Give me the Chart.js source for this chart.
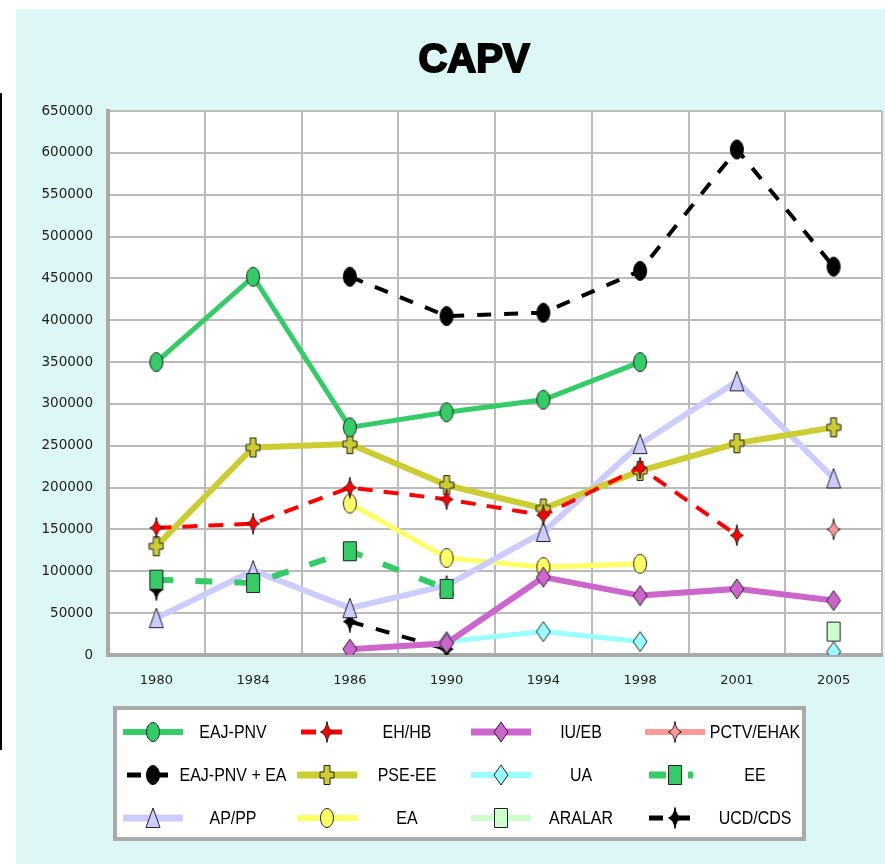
<!DOCTYPE html>
<html>
<head>
<meta charset="utf-8">
<script src="https://cdn.jsdelivr.net/npm/chart.js@4/dist/chart.umd.min.js"></script>
<style>
  html, body { margin: 0; padding: 0; background: #fff; overflow: hidden; }
  #wrap { width: 885px; height: 864px; overflow: hidden; }
</style>
</head>
<body>
<div id="wrap"><canvas id="grafico" width="896" height="864"></canvas></div>
<script>
// datos (votos por eleccion)
const anios = ["1980", "1984", "1986", "1990", "1994", "1998", "2001", "2005"];
const eajPnv  = [350000, 452000, 272000, 290000, 305000, 350000, null, null];
const ehHb    = [152000, 157000, 200000, 186000, 167000, 224000, 143000, null];
const iuEb    = [null, null, 7000, 14000, 93000, 71000, 79000, 65000];
const pctv    = [null, null, null, null, null, null, null, 150000];
const pnvEa   = [null, null, 452000, 405000, 409000, 459000, 604000, 464000];
const pseEe   = [130000, 248000, 252000, 203000, 175000, 220000, 253000, 272000];
const ua      = [null, null, null, 16000, 28000, 16000, null, 4000];
const ee      = [90000, 86000, 124000, 79000, null, null, null, null];
const apPp    = [44000, 101000, 56000, 83000, 147000, 252000, 327000, 211000];
const ea      = [null, null, 181000, 116000, 105000, 109000, null, null];
const aralar  = [null, null, null, null, null, null, null, 28000];
const ucdCds  = [78000, null, 40000, 7000, null, null, null, null];

const ticksY = [0, 650000, 50000]; // min, max, paso

// marcadores dibujados a mano (elipse, rombo, etc.)
function marcador(forma, relleno, borde) {
  const c = document.createElement("canvas");
  c.width = 16; c.height = 22;
  const g = c.getContext("2d");
  g.fillStyle = relleno;
  g.strokeStyle = borde;
  g.lineWidth = 1;
  g.beginPath();
  if (forma === "elipse") {
    g.ellipse(8, 11, 6.5, 9.5, 0, 0, Math.PI * 2);
  } else if (forma === "rombo") {
    g.moveTo(8, 1); g.lineTo(15, 11); g.lineTo(8, 21); g.lineTo(1, 11);
  } else if (forma === "triangulo") {
    g.moveTo(8, 1); g.lineTo(15, 20.5); g.lineTo(1, 20.5);
  } else if (forma === "cruz") {
    g.moveTo(5, 1.5); g.lineTo(11, 1.5); g.lineTo(11, 8); g.lineTo(15, 8);
    g.lineTo(15, 14); g.lineTo(11, 14); g.lineTo(11, 20.5); g.lineTo(5, 20.5);
    g.lineTo(5, 14); g.lineTo(1, 14); g.lineTo(1, 8); g.lineTo(5, 8);
  } else if (forma === "estrella") {
    g.moveTo(8, 0.5); g.quadraticCurveTo(9, 9, 14.5, 11);
    g.quadraticCurveTo(9, 13, 8, 21.5); g.quadraticCurveTo(7, 13, 1.5, 11);
    g.quadraticCurveTo(7, 9, 8, 0.5);
  } else if (forma === "cuadro") {
    g.rect(1.5, 1.5, 13, 19);
  }
  g.closePath();
  g.fill();
  g.stroke();
  return c;
}

function serie(nombre, datos, color, ancho, forma, relleno, guion) {
  return {
    label: nombre,
    data: datos,
    borderColor: color,
    backgroundColor: relleno,
    borderWidth: ancho,
    borderDash: guion || [],
    pointStyle: marcador(forma, relleno, relleno === "#000000" ? "#000000" : "#222222"),
    pointRadius: 8,
    tension: 0,
    spanGaps: false
  };
}

const series = [
  serie("EAJ-PNV", eajPnv, "#33cc66", 5, "elipse", "#33cc66"),
  serie("EH/HB", ehHb, "#ff0000", 4, "estrella", "#ff0000", [15, 11]),
  serie("IU/EB", iuEb, "#cc66cc", 6, "rombo", "#cc66cc"),
  serie("PCTV/EHAK", pctv, "#ff9999", 5, "estrella", "#ff9999"),
  serie("EAJ-PNV + EA", pnvEa, "#000000", 4, "elipse", "#000000", [14, 13]),
  serie("PSE-EE", pseEe, "#cccc33", 6, "cruz", "#cccc33"),
  serie("UA", ua, "#99ffff", 5, "rombo", "#99ffff"),
  serie("EE", ee, "#33cc66", 6, "cuadro", "#33cc66", [17, 22]),
  serie("AP/PP", apPp, "#ccccff", 6, "triangulo", "#ccccff"),
  serie("EA", ea, "#ffff66", 5, "elipse", "#ffff66"),
  serie("ARALAR", aralar, "#ccffcc", 5, "cuadro", "#ccffcc"),
  serie("UCD/CDS", ucdCds, "#000000", 4, "estrella", "#000000", [14, 13])
];

const fondo = {
  id: "fondo",
  beforeDraw(chart) {
    const ctx = chart.ctx;
    const a = chart.chartArea;
    ctx.save();
    ctx.fillStyle = "#ffffff";
    ctx.fillRect(0, 0, chart.width, chart.height);
    ctx.fillStyle = "#ddf7f7";
    ctx.fillRect(16, 9, chart.width - 16, chart.height - 9);
    ctx.fillStyle = "#000000";
    ctx.fillRect(0, 93, 2, 657);
    ctx.fillStyle = "#ffffff";
    ctx.fillRect(a.left, a.top, a.right - a.left, a.bottom - a.top);
    ctx.restore();
  }
};

const tituloYLeyenda = {
  id: "tituloYLeyenda",
  afterDraw(chart) {
    const ctx = chart.ctx;
    ctx.save();
    // titulo
    ctx.font = 'bold 40px "Liberation Sans", Arial, sans-serif';
    ctx.textAlign = "center";
    ctx.textBaseline = "alphabetic";
    ctx.fillStyle = "#000";
    ctx.strokeStyle = "#000";
    ctx.lineWidth = 2;
    ctx.fillText("CAPV", 474, 72);
    ctx.strokeText("CAPV", 474, 72);

    // leyenda en rejilla 4x3
    ctx.fillStyle = "#ffffff";
    ctx.fillRect(115, 708, 689, 131);
    ctx.strokeStyle = "#aaaaaa";
    ctx.lineWidth = 4;
    ctx.strokeRect(115, 708, 689, 131);

    chart.data.datasets.forEach((ds, i) => {
      const col = i % 4;
      const fila = Math.floor(i / 4);
      const x0 = 123 + col * 174;
      const y = 732 + fila * 43;
      const discontinua = ds.borderDash.length > 0;
      ctx.beginPath();
      ctx.setLineDash(ds.borderDash);
      ctx.strokeStyle = ds.borderColor;
      ctx.lineWidth = ds.borderWidth + 1;
      ctx.moveTo(discontinua ? x0 + 4 : x0, y);
      ctx.lineTo(discontinua ? x0 + 48 : x0 + 60, y);
      ctx.stroke();
      ctx.setLineDash([]);
      const img = ds.pointStyle;
      ctx.drawImage(img, x0 + 30 - img.width / 2, y - img.height / 2);
      // texto estrecho: se comprime en horizontal
      ctx.save();
      ctx.translate(x0 + 110, y + 1);
      ctx.scale(0.84, 1);
      ctx.font = '19px "Liberation Sans", Arial, sans-serif';
      ctx.fillStyle = "#000";
      ctx.textAlign = "center";
      ctx.textBaseline = "middle";
      ctx.fillText(ds.label, 0, 0);
      ctx.restore();
    });
    ctx.restore();
  }
};

new Chart(document.getElementById("grafico"), {
  type: "line",
  data: { labels: anios, datasets: series },
  options: {
    responsive: false,
    animation: false,
    devicePixelRatio: 1,
    layout: { padding: { left: 0, right: 3, top: 111, bottom: 169 } },
    plugins: {
      legend: { display: false },
      title: { display: false },
      tooltip: { enabled: false }
    },
    scales: {
      x: {
        type: "category",
        offset: true,
        grid: { offset: true, color: "#bbbbbb", lineWidth: 2, drawTicks: true, tickLength: 18, tickColor: "rgba(0,0,0,0)" },
        border: { color: "#aaaaaa", width: 4 },
        ticks: { color: "#222", padding: 0, font: { family: '"DejaVu Sans"', size: 13 } },
        afterFit(s) {
          s.height = 40;
          s.paddingLeft = 0;
          s.paddingRight = 0;
        }
      },
      y: {
        min: ticksY[0],
        max: ticksY[1],
        grid: { color: "#bbbbbb", lineWidth: 2, drawTicks: false },
        border: { color: "#aaaaaa", width: 4 },
        ticks: {
          stepSize: ticksY[2],
          color: "#222",
          padding: 15,
          font: { family: '"DejaVu Sans"', size: 13.5 },
          callback: v => String(v)
        },
        afterFit(s) { s.width = 108; }
      }
    }
  },
  plugins: [fondo, tituloYLeyenda]
});
</script>
</body>
</html>
